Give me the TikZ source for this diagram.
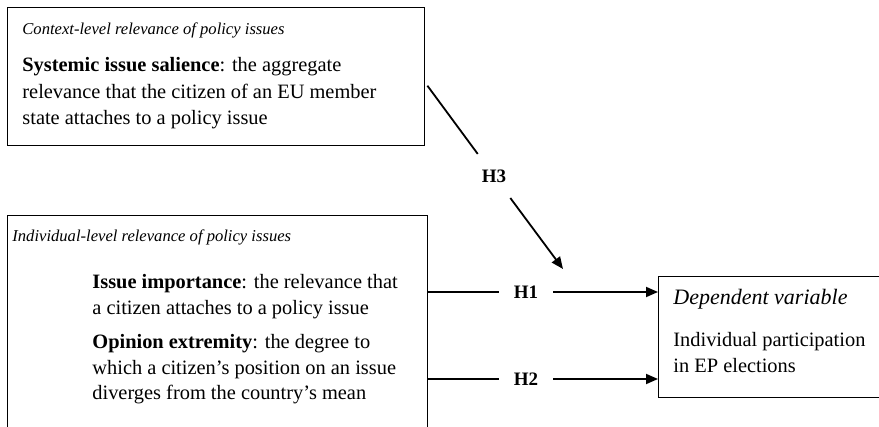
\documentclass[tikz,border=0pt]{standalone}
\usepackage{fontspec}
\setmainfont{Liberation Serif}
\usetikzlibrary{positioning, arrows.meta}

\begin{document}
\begin{tikzpicture}[x=0.5pt, y=-0.5pt,
        box/.style={draw, line width=0.7pt, rectangle, inner sep=0pt, anchor=north west},
        head/.style={inner sep=0pt, anchor=north west, align=left, font=\fontsize{8.3}{10}\selectfont\itshape},
        body/.style={inner sep=0pt, anchor=north west, align=left, font=\fontsize{10.2}{12.8}\selectfont},
        hyp/.style={circle, inner sep=0pt, minimum size=27pt, font=\fontsize{9.5}{11}\selectfont\bfseries},
        plain/.style={line width=0.9pt},
        link/.style={line width=0.9pt, -{Triangle[length=6pt,width=5pt]}}]
        \useasboundingbox (0,0) rectangle (879,427);

        % boxes
        \node (ctxbox) [box, minimum width=208.5pt, minimum height=69pt] at (7,7) {};
        \node (indbox) [box, minimum width=210pt, minimum height=120pt] at (7,215) {};
        \node (depbox) [box, minimum width=130pt, minimum height=60.5pt] at (658,276) {};

        % texts
        \node (ctxhead) [head, below right=7.5pt and 7.5pt of ctxbox.north west] {Context-level relevance of policy issues};
        \node (ctxtext) [body, font=\fontsize{10.2}{13.3}\selectfont, below right=25pt and 7.5pt of ctxbox.north west]
            {\textbf{Systemic issue salience}: the aggregate\\relevance that the citizen of an EU member\\state attaches to a policy issue};
        \node (indhead) [head, below right=7pt and 2.5pt of indbox.north west] {Individual-level relevance of policy issues};
        \node (imptext) [body, below right=29.5pt and 42.5pt of indbox.north west]
            {\textbf{Issue importance}: the relevance that\\a citizen attaches to a policy issue};
        \node (exttext) [body, below right=59.5pt and 42.5pt of indbox.north west]
            {\textbf{Opinion extremity}: the degree to\\which a citizen’s position on an issue\\diverges from the country’s mean};
        \node (dephead) [head, font=\fontsize{11}{13}\selectfont\itshape, below right=6.5pt and 7.5pt of depbox.north west] {Dependent variable};
        \node (deptext) [body, below right=28pt and 7.5pt of depbox.north west] {Individual participation\\in EP elections};

        % hypotheses
        \node (h1) [hyp] at (526,292) {H1};
        \node (h2) [hyp] at (526,379) {H2};
        \node (h3) [hyp] at (494,176) {H3};
        \coordinate (mod) at (563,269);

        \draw[plain] (indbox.east |- h1) -- (h1);
        \draw[link] (h1) -- (depbox.west |- h1);
        \draw[plain] (indbox.east |- h2) -- (h2);
        \draw[link] (h2) -- (depbox.west |- h2);
        \draw[plain] ([shift={(2,9)}]ctxbox.east) -- (h3);
        \draw[link] (h3) -- (mod);
    \end{tikzpicture}
\end{document}
